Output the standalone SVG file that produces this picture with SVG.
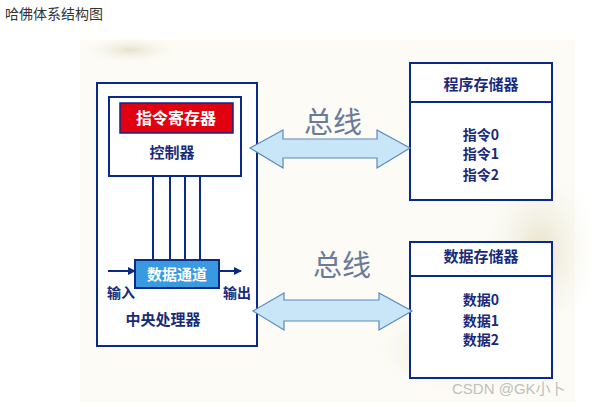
<svg xmlns="http://www.w3.org/2000/svg" width="601" height="407" viewBox="0 0 601 407">
<style>
.box{fill:#fff;stroke:#0a2a8a;stroke-width:2}
.t{font-family:"Noto Sans CJK SC","Liberation Serif",serif;font-weight:bold;fill:#1a2a7a;text-anchor:middle}
.bus{fill:#c8e6f8;stroke:#5a8ac0;stroke-width:1.2}
.ln{stroke:#0a2a8a;stroke-width:2;fill:none}
</style>
<defs>
<marker id="ah" markerWidth="8" markerHeight="8" refX="7" refY="4" orient="auto" markerUnits="userSpaceOnUse"><path d="M0,0 L8,4 L0,8 Z" fill="#0a2a8a"/></marker>
<radialGradient id="bl"><stop offset="0" stop-color="#e6e2cc"/><stop offset="1" stop-color="#fbfaf3" stop-opacity="0"/></radialGradient>
</defs>
<rect x="80" y="40" width="495" height="362" fill="#fcfbf5"/>
<ellipse cx="130" cy="50" rx="50" ry="14" fill="url(#bl)"/>
<ellipse cx="540" cy="250" rx="60" ry="90" fill="url(#bl)"/>
<ellipse cx="470" cy="350" rx="110" ry="50" fill="url(#bl)"/>
<text x="5" y="19" font-family="Noto Sans CJK SC,sans-serif" font-size="14" fill="#333">哈佛体系结构图</text>
<g id="cpu">
<rect class="box" x="97" y="83" width="160" height="263"/>
<text class="t" x="163" y="325" font-size="15">中央处理器</text>
</g>
<g id="controller">
<rect class="box" x="109" y="97" width="132" height="79"/>
<text class="t" x="172" y="158" font-size="15">控制器</text>
</g>
<g id="ir">
<rect x="120" y="103" width="113" height="30" fill="#e00010" stroke="#0a2a8a" stroke-width="1.5"/>
<text class="t" x="176" y="124" font-size="16" style="fill:#fff">指令寄存器</text>
</g>
<g id="datapath">
<rect x="135" y="260" width="84" height="28" fill="#3a9ae0" stroke="#0a2a8a" stroke-width="2"/>
<text class="t" x="177" y="280" font-size="15" style="fill:#fff">数据通道</text>
<text class="t" x="121" y="298" font-size="14">输入</text>
<text class="t" x="237" y="298" font-size="14">输出</text>
</g>
<g id="progmem">
<rect class="box" x="410" y="63" width="142" height="137"/>
<line class="ln" x1="410" y1="102" x2="552" y2="102"/>
<text class="t" x="481" y="90" font-size="15">程序存储器</text>
<text class="t" x="481" y="140" font-size="14">指令0</text>
<text class="t" x="481" y="159" font-size="14">指令1</text>
<text class="t" x="481" y="180" font-size="14">指令2</text>
</g>
<g id="datamem">
<rect class="box" x="410" y="242" width="142" height="136"/>
<line class="ln" x1="410" y1="276" x2="552" y2="276"/>
<text class="t" x="481" y="262" font-size="15">数据存储器</text>
<text class="t" x="481" y="305" font-size="14">数据0</text>
<text class="t" x="481" y="326" font-size="14">数据1</text>
<text class="t" x="481" y="345" font-size="14">数据2</text>
</g>
<g id="connectors">
<line class="ln" x1="153" y1="176" x2="153" y2="260"/>
<line class="ln" x1="170" y1="176" x2="170" y2="260"/>
<line class="ln" x1="185" y1="176" x2="185" y2="260"/>
<line class="ln" x1="200" y1="176" x2="200" y2="260"/>
<line class="ln" x1="108" y1="271" x2="135" y2="271" marker-end="url(#ah)"/>
<line class="ln" x1="219" y1="271" x2="241" y2="271" marker-end="url(#ah)"/>
<path class="bus" d="M250,148 L283,130 L283,139 L377,139 L377,130 L410,148 L377,168 L377,158 L283,158 L283,168 Z"/>
<path class="bus" d="M253,311 L284,293 L284,300 L379,300 L379,293 L412,311 L379,330 L379,321 L284,321 L284,330 Z"/>
<text x="333" y="133" font-family="Noto Sans CJK SC,sans-serif" font-size="29" fill="#6a7a9a" text-anchor="middle">总线</text>
<text x="342" y="276" font-family="Noto Sans CJK SC,sans-serif" font-size="29" fill="#6a7a9a" text-anchor="middle">总线</text>
</g>
<text x="452" y="394" font-family="Liberation Sans,Noto Sans CJK SC,sans-serif" font-size="15" fill="#c0c0c0">CSDN @GK小卜</text>
</svg>
